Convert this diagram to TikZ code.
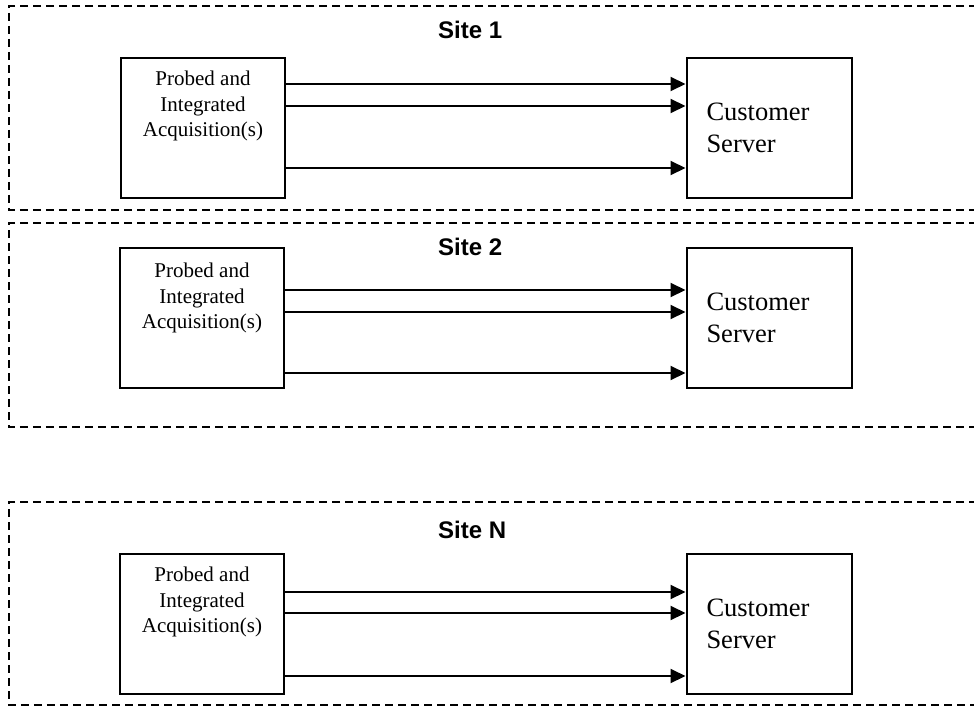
\documentclass[tikz,border=0pt]{standalone}
\usepackage{fontspec}
\setmainfont{Liberation Serif}
\newfontfamily\sitefont{Liberation Sans}
\usetikzlibrary{arrows.meta,positioning}
\begin{document}
\begin{tikzpicture}[x=1pt, y=-1pt,
	sitebox/.style={line width=1.5pt, dash pattern=on 8pt off 5pt},
	sitetitle/.style={anchor=west, inner sep=0pt, font=\sitefont\bfseries\fontsize{24}{28}\selectfont},
	acqbox/.style={draw, line width=2pt, minimum width=164pt, minimum height=140pt, inner sep=0pt},
	acqtext/.style={align=center, inner sep=0pt, font=\fontsize{21}{25.5}\selectfont},
	serverbox/.style={draw, line width=2pt, text width=125pt, minimum height=140pt, inner xsep=20pt, align=left, font=\fontsize{26.5}{32}\selectfont},
	flow/.style={line width=2pt, -{Triangle[length=15pt,width=14pt]}}]
	\clip (0,0) rectangle (974,706);
	% site 1
	\draw[sitebox] (990,6) -- (9,6) -- (9,210) -- (990,210);
	\node[sitetitle] (title1) at (438,30) {Site 1};
	\node[acqbox] (acq1) at (203,128) {};
	\node[acqtext, below=14pt of acq1.north] (acqtext1) {Probed and\\Integrated\\Acquisition(s)};
	\node[serverbox] (srv1) at (769,128) {Customer\\Server};
	\foreach \dy in {44,22,-40} \draw[flow] ([yshift=\dy pt]acq1.east) -- ([yshift=\dy pt]srv1.west);
	% site 2
	\draw[sitebox] (990,223) -- (9,223) -- (9,427) -- (990,427);
	\node[sitetitle] (title2) at (438,247) {Site 2};
	\node[acqbox] (acq2) at (202,318) {};
	\node[acqtext, below=16pt of acq2.north] (acqtext2) {Probed and\\Integrated\\Acquisition(s)};
	\node[serverbox] (srv2) at (769,318) {Customer\\Server};
	\foreach \dy in {28,6,-55} \draw[flow] ([yshift=\dy pt]acq2.east) -- ([yshift=\dy pt]srv2.west);
	% site N
	\draw[sitebox] (990,502) -- (9,502) -- (9,705) -- (990,705);
	\node[sitetitle] (titleN) at (438,530) {Site N};
	\node[acqbox] (acqN) at (202,624) {};
	\node[acqtext, below=14pt of acqN.north] (acqtextN) {Probed and\\Integrated\\Acquisition(s)};
	\node[serverbox] (srvN) at (769,624) {Customer\\Server};
	\foreach \dy in {32,11,-52} \draw[flow] ([yshift=\dy pt]acqN.east) -- ([yshift=\dy pt]srvN.west);
\end{tikzpicture}
\end{document}
